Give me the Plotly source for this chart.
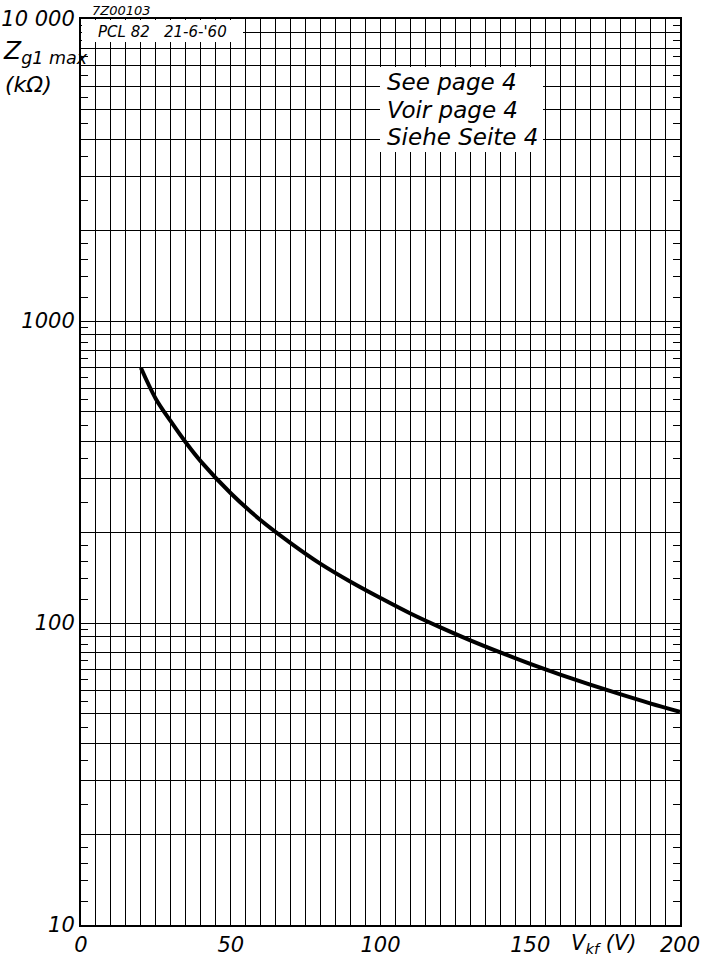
import plotly.graph_objects as go

# Z_g1max versus V_kf
v_kf = [20, 25, 30, 35, 40, 50, 60, 70, 80, 90, 100, 110, 120, 130, 140, 150, 160, 170, 180, 190, 200]
z_g1 = [700, 552, 465, 396, 343, 269, 219, 184, 157, 137, 121, 107.5, 96.7, 87.6, 79.9, 73.2, 67.5, 62.5, 58.1, 54.2, 50.8]

x_ticks = [0, 50, 100, 150, 200]
x_grid = list(range(0, 205, 5))
y_ticks = [10, 100, 1000, 10000]
y_text = ["10", "100", "1000", "10 000"]
decades = [10, 100, 1000]
y_grid = [m * d for d in decades for m in range(2, 10)]
y_half = [m * d for d in decades for m in (1.2, 1.4, 1.6, 1.8, 2.5, 3.5, 4.5, 5.5, 6.5, 7.5, 8.5, 9.5)]

note_lines = ["See page 4", "Voir page 4", "Siehe Seite 4"]

W, H = 707, 958
L, R, T, B = 81, 680, 19, 925
FONT = "DejaVu Sans"


def px(x):
    return (x - L) / (R - L)


def py(y):
    return (B - y) / (B - T)


def ifont(size):
    return dict(family=FONT, size=size, color="black", style="italic")


def half_ticks(side):
    # short inside ticks at the half steps, no labels
    return dict(
        type="log", range=[1, 4], overlaying="y", side=side, automargin=False,
        tickvals=y_half, ticks="inside", ticklen=7, tickwidth=1.3, tickcolor="black",
        showticklabels=False, showgrid=False, showline=False, zeroline=False,
    )


fig = go.Figure()
fig.add_trace(go.Scatter(
    x=v_kf, y=z_g1, mode="lines",
    line=dict(color="black", width=4, shape="spline", smoothing=1),
    showlegend=False, hoverinfo="skip",
))
# empty traces so the tick-only overlay axes are drawn
fig.add_trace(go.Scatter(x=[None], y=[None], yaxis="y2", showlegend=False))
fig.add_trace(go.Scatter(x=[None], y=[None], yaxis="y3", showlegend=False))

grid = dict(showgrid=True, gridcolor="black", gridwidth=1.3)

fig.update_layout(
    width=W, height=H,
    margin=dict(l=L, r=W - R, t=T, b=H - B),
    paper_bgcolor="white", plot_bgcolor="white",
    xaxis=dict(
        range=[0, 200], tickvals=x_ticks, ticks="", automargin=False,
        tickfont=ifont(21), showline=True, linecolor="black", linewidth=2, mirror=True,
        gridcolor="black", gridwidth=1.4, zeroline=False,
        minor=dict(tickvals=x_grid, ticks="", **grid),
    ),
    yaxis=dict(
        type="log", range=[1, 4], tickvals=y_ticks, ticktext=y_text, ticks="", automargin=False,
        tickfont=ifont(21), showline=True, linecolor="black", linewidth=2, mirror=True,
        gridcolor="black", gridwidth=1.4, zeroline=False,
        minor=dict(tickvals=y_grid, ticks="", **grid),
    ),
    yaxis2=half_ticks("left"),
    yaxis3=half_ticks("right"),
)

# white boxes over the grid for the labels
fig.add_shape(type="rect", xref="paper", yref="paper",
              x0=px(380), x1=px(543), y0=py(152), y1=py(67),
              fillcolor="white", line=dict(width=0), layer="above")
fig.add_shape(type="rect", xref="paper", yref="paper",
              x0=px(L + 1), x1=px(243), y0=py(42), y1=py(T + 1),
              fillcolor="white", line=dict(width=0), layer="above")

for i, line in enumerate(note_lines):
    fig.add_annotation(text=line, xref="paper", yref="paper",
                       x=px(385), y=py(82 + 27.5 * i), xanchor="left", yanchor="middle",
                       showarrow=False, font=ifont(23))

fig.add_annotation(text="7Z00103", xref="paper", yref="paper", x=px(90), y=py(11),
                   xanchor="left", yanchor="middle", showarrow=False, font=ifont(13))
fig.add_annotation(text="PCL 82   21-6-'60", xref="paper", yref="paper", x=px(96), y=py(32),
                   xanchor="left", yanchor="middle", showarrow=False, font=ifont(15))
fig.add_annotation(text="Z<sub>g1 max</sub>", xref="paper", yref="paper", x=px(1), y=py(52),
                   xanchor="left", yanchor="middle", showarrow=False, font=ifont(25))
fig.add_annotation(text="(kΩ)", xref="paper", yref="paper", x=px(3), y=py(84),
                   xanchor="left", yanchor="middle", showarrow=False, font=ifont(22))
fig.add_annotation(text="V<sub>kf</sub> (V)", xref="paper", yref="paper", x=px(604), y=py(944),
                   xanchor="center", yanchor="middle", showarrow=False, font=ifont(21))

fig.write_html("out.html", config={"displayModeBar": False},
               post_script="document.body.style.margin='0';")
